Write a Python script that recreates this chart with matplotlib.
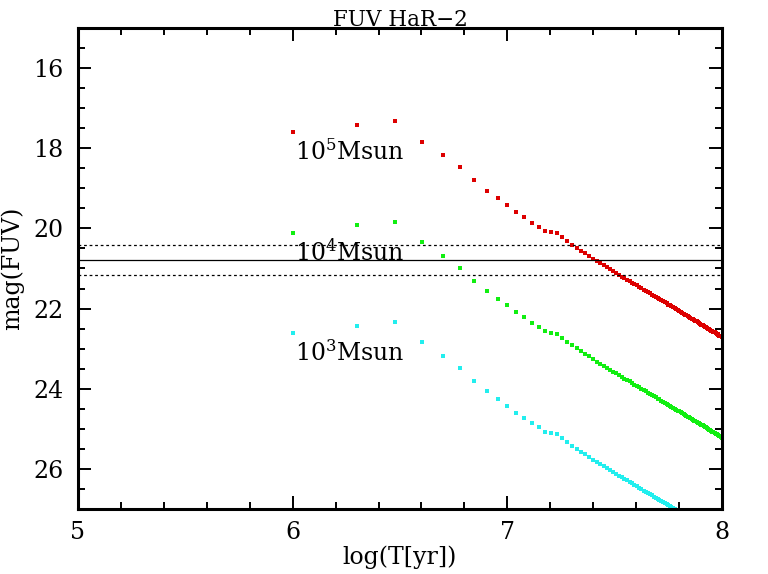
import matplotlib
matplotlib.use("Agg")
import matplotlib.pyplot as plt
from matplotlib.ticker import MultipleLocator
import numpy as np

plt.rcParams['font.family'] = ['DejaVu Serif']
plt.rcParams['mathtext.fontset'] = 'dejavuserif'
plt.rcParams['lines.scale_dashes'] = False

# ages in Myr
ages_myr = [1, 2, 3, 4, 5, 6, 7, 8, 9, 10,
            11, 12, 13, 14, 15, 16, 17, 18, 19, 20,
            21, 22, 23, 24, 25, 26, 27, 28, 29, 30,
            31, 32, 33, 34, 35, 36, 37, 38, 39, 40,
            41, 42, 43, 44, 45, 46, 47, 48, 49, 50,
            51, 52, 53, 54, 55, 56, 57, 58, 59, 60,
            61, 62, 63, 64, 65, 66, 67, 68, 69, 70,
            71, 72, 73, 74, 75, 76, 77, 78, 79, 80,
            81, 82, 83, 84, 85, 86, 87, 88, 89, 90,
            91, 92, 93, 94, 95, 96, 97, 98, 99, 100]

mag_1e5 = [17.61, 17.42, 17.33, 17.84, 18.18, 18.48, 18.80, 19.06, 19.25, 19.42,
           19.59, 19.72, 19.86, 19.96, 20.06, 20.10, 20.12, 20.22, 20.32, 20.41,
           20.49, 20.56, 20.62, 20.69, 20.76, 20.82, 20.87, 20.92, 20.97, 21.02,
           21.07, 21.11, 21.16, 21.20, 21.24, 21.28, 21.31, 21.35, 21.39, 21.42,
           21.46, 21.49, 21.53, 21.56, 21.59, 21.62, 21.65, 21.68, 21.71, 21.74,
           21.76, 21.79, 21.82, 21.84, 21.87, 21.90, 21.92, 21.94, 21.97, 21.99,
           22.02, 22.04, 22.06, 22.08, 22.10, 22.13, 22.15, 22.17, 22.19, 22.21,
           22.23, 22.25, 22.27, 22.29, 22.31, 22.32, 22.34, 22.36, 22.38, 22.40,
           22.41, 22.43, 22.45, 22.46, 22.48, 22.50, 22.51, 22.53, 22.55, 22.56,
           22.58, 22.59, 22.61, 22.62, 22.64, 22.65, 22.67, 22.68, 22.69, 22.71]

mag_1e4 = [20.11, 19.92, 19.83, 20.34, 20.68, 20.98, 21.30, 21.56, 21.75, 21.92,
           22.09, 22.22, 22.36, 22.46, 22.56, 22.60, 22.62, 22.72, 22.82, 22.91,
           22.99, 23.06, 23.12, 23.19, 23.26, 23.32, 23.37, 23.42, 23.47, 23.52,
           23.57, 23.61, 23.66, 23.70, 23.74, 23.78, 23.81, 23.85, 23.89, 23.92,
           23.96, 23.99, 24.03, 24.06, 24.09, 24.12, 24.15, 24.18, 24.21, 24.24,
           24.26, 24.29, 24.32, 24.34, 24.37, 24.40, 24.42, 24.44, 24.47, 24.49,
           24.52, 24.54, 24.56, 24.58, 24.60, 24.63, 24.65, 24.67, 24.69, 24.71,
           24.73, 24.75, 24.77, 24.79, 24.81, 24.82, 24.84, 24.86, 24.88, 24.90,
           24.91, 24.93, 24.95, 24.96, 24.98, 25.00, 25.01, 25.03, 25.05, 25.06,
           25.08, 25.09, 25.11, 25.12, 25.14, 25.15, 25.17, 25.18, 25.19, 25.21]

mag_1e3 = [22.61, 22.42, 22.33, 22.84, 23.18, 23.48, 23.80, 24.06, 24.25, 24.42,
           24.59, 24.72, 24.86, 24.96, 25.06, 25.10, 25.12, 25.22, 25.32, 25.41,
           25.49, 25.56, 25.62, 25.69, 25.76, 25.82, 25.87, 25.92, 25.97, 26.02,
           26.07, 26.11, 26.16, 26.20, 26.24, 26.28, 26.31, 26.35, 26.39, 26.42,
           26.46, 26.49, 26.53, 26.56, 26.59, 26.62, 26.65, 26.68, 26.71, 26.74,
           26.76, 26.79, 26.82, 26.84, 26.87, 26.90, 26.92, 26.94, 26.97, 26.99,
           27.02]

series_colors = ['#dd0000', '#11ee11', '#22eeee']
series_labels = [r'10$^{5}$Msun', r'10$^{4}$Msun', r'10$^{3}$Msun']
label_y = [18.30, 20.80, 23.30]
label_x = 6.013

limit_mag = 20.79
limit_lo = 20.42
limit_hi = 21.17

title = 'FUV HaR\u22122'
xlabel = 'log(T[yr])'
ylabel = 'mag(FUV)'

fig = plt.figure(figsize=(7.68, 5.74), dpi=100)
ax = fig.add_axes([77.7/768, 1-509.4/574, (722.3-77.7)/768, (509.4-27.6)/574])

logt = np.log10(np.array(ages_myr) * 1e6)
for mags, c in zip([mag_1e5, mag_1e4, mag_1e3], series_colors):
    ax.plot(logt[:len(mags)], mags, linestyle='none', marker='s',
            markersize=2.4, markeredgewidth=0, color=c)

ax.axhline(limit_mag, color='black', lw=0.9)
ax.axhline(limit_lo, color='black', lw=0.9, dashes=(2, 2))
ax.axhline(limit_hi, color='black', lw=0.9, dashes=(2, 2))

for lab, yv in zip(series_labels, label_y):
    ax.text(label_x, yv, lab, ha='left', va='baseline', fontsize=17)

ax.set_xlim(5, 8)
ax.set_ylim(27, 15)
ax.xaxis.set_major_locator(MultipleLocator(1))
ax.xaxis.set_minor_locator(MultipleLocator(0.2))
ax.yaxis.set_major_locator(MultipleLocator(2))
ax.yaxis.set_minor_locator(MultipleLocator(0.5))
ax.tick_params(which='both', direction='in', top=True, right=True, labelsize=17, width=1.4)
ax.tick_params(which='major', length=9.5)
ax.tick_params(which='minor', length=4.8)
ax.tick_params(axis='x', pad=8)
ax.tick_params(axis='y', pad=10)
for s in ax.spines.values():
    s.set_linewidth(2.2)

fig.text(400/768, 1-26/574, title, ha='center', va='baseline', fontsize=15.5)
fig.text(400/768, 1-564/574, xlabel, ha='center', va='baseline', fontsize=17)
fig.text(12/768, 1-268.5/574, ylabel, ha='center', va='center', rotation=90, fontsize=17)

fig.savefig('out.png', dpi=100)
